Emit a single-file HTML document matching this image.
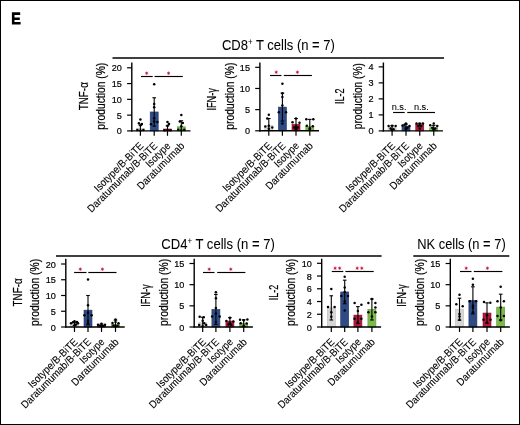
<!DOCTYPE html>
<html><head><meta charset="utf-8"><style>
html,body{margin:0;padding:0;background:#fff;}
body{width:520px;height:425px;overflow:hidden;}
.f{position:absolute;left:0;top:0;width:518px;height:423px;border:1px solid #000;}
svg{position:absolute;left:0;top:0;will-change:transform;}
text{font-family:"Liberation Sans",sans-serif;stroke:#000;stroke-width:0.22px;}
</style></head><body><div class="f"></div>
<svg width="520" height="425" viewBox="0 0 520 425">
<rect x="136.40" y="128.69" width="8.00" height="2.21" fill="#d6d6d6" stroke="#bcbcbc" stroke-width="0.6"/>
<rect x="150.20" y="111.97" width="8.00" height="18.93" fill="#2f4b86" stroke="#22386a" stroke-width="0.6"/>
<rect x="163.50" y="129.01" width="8.00" height="1.89" fill="#b3173d" stroke="#8e1030" stroke-width="0.6"/>
<rect x="177.30" y="126.80" width="8.00" height="4.10" fill="#7cba4c" stroke="#5e9a36" stroke-width="0.6"/>
<line x1="140.40" y1="125.22" x2="140.40" y2="130.90" stroke="#000" stroke-width="1.1"/>
<line x1="138.60" y1="125.22" x2="142.20" y2="125.22" stroke="#000" stroke-width="1.1"/>
<circle cx="140.40" cy="119.54" r="1.25" fill="#000"/>
<circle cx="138.90" cy="123.33" r="1.25" fill="#000"/>
<circle cx="141.90" cy="123.96" r="1.25" fill="#000"/>
<circle cx="140.40" cy="125.22" r="1.25" fill="#000"/>
<circle cx="137.40" cy="129.95" r="1.25" fill="#000"/>
<circle cx="143.40" cy="129.95" r="1.25" fill="#000"/>
<circle cx="140.40" cy="130.58" r="1.25" fill="#000"/>
<line x1="154.20" y1="97.77" x2="154.20" y2="126.17" stroke="#000" stroke-width="1.1"/>
<line x1="152.40" y1="97.77" x2="156.00" y2="97.77" stroke="#000" stroke-width="1.1"/>
<line x1="152.40" y1="126.17" x2="156.00" y2="126.17" stroke="#000" stroke-width="1.1"/>
<circle cx="154.20" cy="84.21" r="1.25" fill="#000"/>
<circle cx="154.20" cy="104.08" r="1.25" fill="#000"/>
<circle cx="154.20" cy="107.24" r="1.25" fill="#000"/>
<circle cx="151.00" cy="124.27" r="1.25" fill="#000"/>
<circle cx="157.40" cy="121.91" r="1.25" fill="#000"/>
<circle cx="154.20" cy="118.28" r="1.25" fill="#000"/>
<circle cx="154.20" cy="121.44" r="1.25" fill="#000"/>
<line x1="167.50" y1="125.85" x2="167.50" y2="130.90" stroke="#000" stroke-width="1.1"/>
<line x1="165.70" y1="125.85" x2="169.30" y2="125.85" stroke="#000" stroke-width="1.1"/>
<circle cx="167.50" cy="122.07" r="1.25" fill="#000"/>
<circle cx="169.00" cy="123.96" r="1.25" fill="#000"/>
<circle cx="167.50" cy="125.85" r="1.25" fill="#000"/>
<circle cx="164.50" cy="130.27" r="1.25" fill="#000"/>
<circle cx="170.50" cy="130.27" r="1.25" fill="#000"/>
<circle cx="167.50" cy="129.95" r="1.25" fill="#000"/>
<line x1="181.30" y1="120.80" x2="181.30" y2="130.90" stroke="#000" stroke-width="1.1"/>
<line x1="179.50" y1="120.80" x2="183.10" y2="120.80" stroke="#000" stroke-width="1.1"/>
<circle cx="181.30" cy="115.12" r="1.25" fill="#000"/>
<circle cx="179.80" cy="121.44" r="1.25" fill="#000"/>
<circle cx="182.80" cy="123.01" r="1.25" fill="#000"/>
<circle cx="181.30" cy="126.17" r="1.25" fill="#000"/>
<circle cx="178.30" cy="129.64" r="1.25" fill="#000"/>
<circle cx="184.30" cy="129.64" r="1.25" fill="#000"/>
<circle cx="181.30" cy="130.27" r="1.25" fill="#000"/>
<line x1="131.80" y1="62.50" x2="131.80" y2="131.50" stroke="#000" stroke-width="1.4"/>
<line x1="131.10" y1="130.90" x2="190.50" y2="130.90" stroke="#000" stroke-width="1.4"/>
<line x1="127.10" y1="130.90" x2="131.80" y2="130.90" stroke="#000" stroke-width="1.2"/>
<text transform="translate(121.90,134.40) scale(0.92,1)" font-size="9.9" text-anchor="end">0</text>
<line x1="127.10" y1="115.12" x2="131.80" y2="115.12" stroke="#000" stroke-width="1.2"/>
<text transform="translate(121.90,118.62) scale(0.92,1)" font-size="9.9" text-anchor="end">5</text>
<line x1="127.10" y1="99.35" x2="131.80" y2="99.35" stroke="#000" stroke-width="1.2"/>
<text transform="translate(121.90,102.85) scale(0.92,1)" font-size="9.9" text-anchor="end">10</text>
<line x1="127.10" y1="83.58" x2="131.80" y2="83.58" stroke="#000" stroke-width="1.2"/>
<text transform="translate(121.90,87.08) scale(0.92,1)" font-size="9.9" text-anchor="end">15</text>
<line x1="127.10" y1="67.80" x2="131.80" y2="67.80" stroke="#000" stroke-width="1.2"/>
<text transform="translate(121.90,71.30) scale(0.92,1)" font-size="9.9" text-anchor="end">20</text>
<line x1="140.40" y1="130.90" x2="140.40" y2="135.80" stroke="#000" stroke-width="1.2"/>
<line x1="154.20" y1="130.90" x2="154.20" y2="135.80" stroke="#000" stroke-width="1.2"/>
<line x1="167.50" y1="130.90" x2="167.50" y2="135.80" stroke="#000" stroke-width="1.2"/>
<line x1="181.30" y1="130.90" x2="181.30" y2="135.80" stroke="#000" stroke-width="1.2"/>
<line x1="141.00" y1="76.50" x2="152.70" y2="76.50" stroke="#000" stroke-width="1.15"/>
<line x1="154.50" y1="76.50" x2="182.80" y2="76.50" stroke="#000" stroke-width="1.15"/>
<g stroke="#e2506f" stroke-width="0.8" stroke-linecap="round">
<line x1="146.70" y1="71.75" x2="146.70" y2="74.65"/>
<line x1="145.44" y1="72.48" x2="147.96" y2="73.92"/>
<line x1="145.44" y1="73.92" x2="147.96" y2="72.48"/>
</g>
<circle cx="146.70" cy="73.20" r="0.95" fill="#b0203f"/>
<g stroke="#e2506f" stroke-width="0.8" stroke-linecap="round">
<line x1="168.60" y1="71.75" x2="168.60" y2="74.65"/>
<line x1="167.34" y1="72.48" x2="169.86" y2="73.92"/>
<line x1="167.34" y1="73.92" x2="169.86" y2="72.48"/>
</g>
<circle cx="168.60" cy="73.20" r="0.95" fill="#b0203f"/>
<text x="88.00" y="96.20" font-size="12.5" text-anchor="middle" fill="#000" textLength="28" lengthAdjust="spacingAndGlyphs" transform="rotate(-90 88.00 96.20)">TNF-α</text>
<text x="105.50" y="96.20" font-size="12.3" text-anchor="middle" fill="#000" textLength="67" lengthAdjust="spacingAndGlyphs" transform="rotate(-90 105.50 96.20)">production (%)</text>
<text x="144.20" y="146.50" font-size="10.5" text-anchor="end" fill="#000" textLength="65" lengthAdjust="spacingAndGlyphs" transform="rotate(-45 144.20 146.50)" style="stroke-width:0.1px">Isotype/B-BiTE</text>
<text x="158.00" y="146.50" font-size="10.5" text-anchor="end" fill="#000" textLength="94" lengthAdjust="spacingAndGlyphs" transform="rotate(-45 158.00 146.50)" style="stroke-width:0.1px">Daratumumab/B-BiTE</text>
<text x="171.30" y="146.50" font-size="10.5" text-anchor="end" fill="#000" textLength="30.5" lengthAdjust="spacingAndGlyphs" transform="rotate(-45 171.30 146.50)" style="stroke-width:0.1px">Isotype</text>
<text x="185.10" y="146.50" font-size="10.5" text-anchor="end" fill="#000" textLength="62" lengthAdjust="spacingAndGlyphs" transform="rotate(-45 185.10 146.50)" style="stroke-width:0.1px">Daratumumab</text>
<rect x="264.80" y="125.72" width="8.00" height="5.08" fill="#d6d6d6" stroke="#bcbcbc" stroke-width="0.6"/>
<rect x="278.40" y="107.10" width="8.00" height="23.70" fill="#2f4b86" stroke="#22386a" stroke-width="0.6"/>
<rect x="292.00" y="124.24" width="8.00" height="6.56" fill="#b3173d" stroke="#8e1030" stroke-width="0.6"/>
<rect x="305.80" y="126.57" width="8.00" height="4.23" fill="#7cba4c" stroke="#5e9a36" stroke-width="0.6"/>
<line x1="268.80" y1="118.52" x2="268.80" y2="130.80" stroke="#000" stroke-width="1.1"/>
<line x1="267.00" y1="118.52" x2="270.60" y2="118.52" stroke="#000" stroke-width="1.1"/>
<circle cx="268.80" cy="114.71" r="1.25" fill="#000"/>
<circle cx="265.30" cy="126.57" r="1.25" fill="#000"/>
<circle cx="272.30" cy="127.41" r="1.25" fill="#000"/>
<circle cx="268.80" cy="125.72" r="1.25" fill="#000"/>
<circle cx="268.80" cy="128.68" r="1.25" fill="#000"/>
<circle cx="267.30" cy="118.52" r="1.25" fill="#000"/>
<line x1="282.40" y1="93.13" x2="282.40" y2="121.06" stroke="#000" stroke-width="1.1"/>
<line x1="280.60" y1="93.13" x2="284.20" y2="93.13" stroke="#000" stroke-width="1.1"/>
<line x1="280.60" y1="121.06" x2="284.20" y2="121.06" stroke="#000" stroke-width="1.1"/>
<circle cx="282.40" cy="83.81" r="1.25" fill="#000"/>
<circle cx="282.40" cy="93.13" r="1.25" fill="#000"/>
<circle cx="282.40" cy="96.94" r="1.25" fill="#000"/>
<circle cx="278.80" cy="112.17" r="1.25" fill="#000"/>
<circle cx="286.00" cy="112.17" r="1.25" fill="#000"/>
<circle cx="282.40" cy="123.60" r="1.25" fill="#000"/>
<circle cx="282.40" cy="105.40" r="1.25" fill="#000"/>
<line x1="296.00" y1="118.52" x2="296.00" y2="129.95" stroke="#000" stroke-width="1.1"/>
<line x1="294.20" y1="118.52" x2="297.80" y2="118.52" stroke="#000" stroke-width="1.1"/>
<line x1="294.20" y1="129.95" x2="297.80" y2="129.95" stroke="#000" stroke-width="1.1"/>
<circle cx="296.00" cy="118.52" r="1.25" fill="#000"/>
<circle cx="292.50" cy="122.33" r="1.25" fill="#000"/>
<circle cx="299.50" cy="122.76" r="1.25" fill="#000"/>
<circle cx="296.00" cy="126.57" r="1.25" fill="#000"/>
<circle cx="296.00" cy="128.68" r="1.25" fill="#000"/>
<circle cx="294.00" cy="127.41" r="1.25" fill="#000"/>
<circle cx="298.00" cy="127.41" r="1.25" fill="#000"/>
<line x1="309.80" y1="119.37" x2="309.80" y2="130.80" stroke="#000" stroke-width="1.1"/>
<line x1="308.00" y1="119.37" x2="311.60" y2="119.37" stroke="#000" stroke-width="1.1"/>
<circle cx="306.30" cy="119.16" r="1.25" fill="#000"/>
<circle cx="313.30" cy="119.16" r="1.25" fill="#000"/>
<circle cx="306.80" cy="125.72" r="1.25" fill="#000"/>
<circle cx="312.80" cy="126.14" r="1.25" fill="#000"/>
<circle cx="309.80" cy="128.26" r="1.25" fill="#000"/>
<circle cx="309.80" cy="129.53" r="1.25" fill="#000"/>
<line x1="259.90" y1="62.50" x2="259.90" y2="131.40" stroke="#000" stroke-width="1.4"/>
<line x1="259.20" y1="130.80" x2="319.00" y2="130.80" stroke="#000" stroke-width="1.4"/>
<line x1="255.20" y1="130.80" x2="259.90" y2="130.80" stroke="#000" stroke-width="1.2"/>
<text transform="translate(250.00,134.30) scale(0.92,1)" font-size="9.9" text-anchor="end">0</text>
<line x1="255.20" y1="109.64" x2="259.90" y2="109.64" stroke="#000" stroke-width="1.2"/>
<text transform="translate(250.00,113.14) scale(0.92,1)" font-size="9.9" text-anchor="end">5</text>
<line x1="255.20" y1="88.47" x2="259.90" y2="88.47" stroke="#000" stroke-width="1.2"/>
<text transform="translate(250.00,91.97) scale(0.92,1)" font-size="9.9" text-anchor="end">10</text>
<line x1="255.20" y1="67.31" x2="259.90" y2="67.31" stroke="#000" stroke-width="1.2"/>
<text transform="translate(250.00,70.81) scale(0.92,1)" font-size="9.9" text-anchor="end">15</text>
<line x1="268.80" y1="130.80" x2="268.80" y2="135.70" stroke="#000" stroke-width="1.2"/>
<line x1="282.40" y1="130.80" x2="282.40" y2="135.70" stroke="#000" stroke-width="1.2"/>
<line x1="296.00" y1="130.80" x2="296.00" y2="135.70" stroke="#000" stroke-width="1.2"/>
<line x1="309.80" y1="130.80" x2="309.80" y2="135.70" stroke="#000" stroke-width="1.2"/>
<line x1="270.00" y1="75.50" x2="281.50" y2="75.50" stroke="#000" stroke-width="1.15"/>
<line x1="283.80" y1="75.50" x2="311.90" y2="75.50" stroke="#000" stroke-width="1.15"/>
<g stroke="#e2506f" stroke-width="0.8" stroke-linecap="round">
<line x1="276.20" y1="70.75" x2="276.20" y2="73.65"/>
<line x1="274.94" y1="71.48" x2="277.46" y2="72.92"/>
<line x1="274.94" y1="72.92" x2="277.46" y2="71.48"/>
</g>
<circle cx="276.20" cy="72.20" r="0.95" fill="#b0203f"/>
<g stroke="#e2506f" stroke-width="0.8" stroke-linecap="round">
<line x1="297.40" y1="70.75" x2="297.40" y2="73.65"/>
<line x1="296.14" y1="71.48" x2="298.66" y2="72.92"/>
<line x1="296.14" y1="72.92" x2="298.66" y2="71.48"/>
</g>
<circle cx="297.40" cy="72.20" r="0.95" fill="#b0203f"/>
<text x="216.10" y="99.35" font-size="12.5" text-anchor="middle" fill="#000" textLength="22.5" lengthAdjust="spacingAndGlyphs" transform="rotate(-90 216.10 99.35)">IFN-γ</text>
<text x="233.60" y="96.15" font-size="12.3" text-anchor="middle" fill="#000" textLength="67" lengthAdjust="spacingAndGlyphs" transform="rotate(-90 233.60 96.15)">production (%)</text>
<text x="272.60" y="146.40" font-size="10.5" text-anchor="end" fill="#000" textLength="65" lengthAdjust="spacingAndGlyphs" transform="rotate(-45 272.60 146.40)" style="stroke-width:0.1px">Isotype/B-BiTE</text>
<text x="286.20" y="146.40" font-size="10.5" text-anchor="end" fill="#000" textLength="94" lengthAdjust="spacingAndGlyphs" transform="rotate(-45 286.20 146.40)" style="stroke-width:0.1px">Daratumumab/B-BiTE</text>
<text x="299.80" y="146.40" font-size="10.5" text-anchor="end" fill="#000" textLength="30.5" lengthAdjust="spacingAndGlyphs" transform="rotate(-45 299.80 146.40)" style="stroke-width:0.1px">Isotype</text>
<text x="313.60" y="146.40" font-size="10.5" text-anchor="end" fill="#000" textLength="62" lengthAdjust="spacingAndGlyphs" transform="rotate(-45 313.60 146.40)" style="stroke-width:0.1px">Daratumumab</text>
<rect x="388.10" y="127.70" width="8.00" height="3.20" fill="#d6d6d6" stroke="#bcbcbc" stroke-width="0.6"/>
<rect x="402.00" y="126.10" width="8.00" height="4.80" fill="#2f4b86" stroke="#22386a" stroke-width="0.6"/>
<rect x="415.75" y="124.50" width="8.00" height="6.40" fill="#b3173d" stroke="#8e1030" stroke-width="0.6"/>
<rect x="429.75" y="127.70" width="8.00" height="3.20" fill="#7cba4c" stroke="#5e9a36" stroke-width="0.6"/>
<line x1="392.10" y1="125.78" x2="392.10" y2="129.62" stroke="#000" stroke-width="1.1"/>
<line x1="390.30" y1="125.78" x2="393.90" y2="125.78" stroke="#000" stroke-width="1.1"/>
<line x1="390.30" y1="129.62" x2="393.90" y2="129.62" stroke="#000" stroke-width="1.1"/>
<circle cx="388.60" cy="126.10" r="1.25" fill="#000"/>
<circle cx="395.60" cy="126.10" r="1.25" fill="#000"/>
<circle cx="392.10" cy="125.78" r="1.25" fill="#000"/>
<circle cx="390.60" cy="128.50" r="1.25" fill="#000"/>
<circle cx="393.60" cy="129.30" r="1.25" fill="#000"/>
<circle cx="392.10" cy="130.10" r="1.25" fill="#000"/>
<line x1="406.00" y1="124.18" x2="406.00" y2="128.02" stroke="#000" stroke-width="1.1"/>
<line x1="404.20" y1="124.18" x2="407.80" y2="124.18" stroke="#000" stroke-width="1.1"/>
<line x1="404.20" y1="128.02" x2="407.80" y2="128.02" stroke="#000" stroke-width="1.1"/>
<circle cx="406.00" cy="123.38" r="1.25" fill="#000"/>
<circle cx="402.50" cy="125.62" r="1.25" fill="#000"/>
<circle cx="409.50" cy="126.10" r="1.25" fill="#000"/>
<circle cx="404.50" cy="124.82" r="1.25" fill="#000"/>
<circle cx="407.50" cy="127.70" r="1.25" fill="#000"/>
<circle cx="406.00" cy="129.30" r="1.25" fill="#000"/>
<line x1="419.75" y1="123.22" x2="419.75" y2="125.78" stroke="#000" stroke-width="1.1"/>
<line x1="417.95" y1="123.22" x2="421.55" y2="123.22" stroke="#000" stroke-width="1.1"/>
<line x1="417.95" y1="125.78" x2="421.55" y2="125.78" stroke="#000" stroke-width="1.1"/>
<circle cx="416.55" cy="123.38" r="1.25" fill="#000"/>
<circle cx="422.95" cy="123.38" r="1.25" fill="#000"/>
<circle cx="419.75" cy="123.70" r="1.25" fill="#000"/>
<circle cx="418.25" cy="126.10" r="1.25" fill="#000"/>
<circle cx="421.25" cy="126.10" r="1.25" fill="#000"/>
<circle cx="419.75" cy="128.50" r="1.25" fill="#000"/>
<line x1="433.75" y1="125.30" x2="433.75" y2="130.10" stroke="#000" stroke-width="1.1"/>
<line x1="431.95" y1="125.30" x2="435.55" y2="125.30" stroke="#000" stroke-width="1.1"/>
<line x1="431.95" y1="130.10" x2="435.55" y2="130.10" stroke="#000" stroke-width="1.1"/>
<circle cx="433.75" cy="123.38" r="1.25" fill="#000"/>
<circle cx="430.25" cy="125.30" r="1.25" fill="#000"/>
<circle cx="437.25" cy="126.10" r="1.25" fill="#000"/>
<circle cx="432.25" cy="127.70" r="1.25" fill="#000"/>
<circle cx="435.25" cy="128.50" r="1.25" fill="#000"/>
<circle cx="433.75" cy="129.30" r="1.25" fill="#000"/>
<line x1="383.40" y1="62.50" x2="383.40" y2="131.50" stroke="#000" stroke-width="1.4"/>
<line x1="382.70" y1="130.90" x2="442.95" y2="130.90" stroke="#000" stroke-width="1.4"/>
<line x1="378.70" y1="130.90" x2="383.40" y2="130.90" stroke="#000" stroke-width="1.2"/>
<text transform="translate(373.50,134.40) scale(0.92,1)" font-size="9.9" text-anchor="end">0</text>
<line x1="378.70" y1="114.89" x2="383.40" y2="114.89" stroke="#000" stroke-width="1.2"/>
<text transform="translate(373.50,118.39) scale(0.92,1)" font-size="9.9" text-anchor="end">1</text>
<line x1="378.70" y1="98.88" x2="383.40" y2="98.88" stroke="#000" stroke-width="1.2"/>
<text transform="translate(373.50,102.38) scale(0.92,1)" font-size="9.9" text-anchor="end">2</text>
<line x1="378.70" y1="82.87" x2="383.40" y2="82.87" stroke="#000" stroke-width="1.2"/>
<text transform="translate(373.50,86.37) scale(0.92,1)" font-size="9.9" text-anchor="end">3</text>
<line x1="378.70" y1="66.86" x2="383.40" y2="66.86" stroke="#000" stroke-width="1.2"/>
<text transform="translate(373.50,70.36) scale(0.92,1)" font-size="9.9" text-anchor="end">4</text>
<line x1="392.10" y1="130.90" x2="392.10" y2="135.80" stroke="#000" stroke-width="1.2"/>
<line x1="406.00" y1="130.90" x2="406.00" y2="135.80" stroke="#000" stroke-width="1.2"/>
<line x1="419.75" y1="130.90" x2="419.75" y2="135.80" stroke="#000" stroke-width="1.2"/>
<line x1="433.75" y1="130.90" x2="433.75" y2="135.80" stroke="#000" stroke-width="1.2"/>
<line x1="393.10" y1="112.50" x2="404.75" y2="112.50" stroke="#000" stroke-width="1.15"/>
<line x1="407.25" y1="112.50" x2="435.00" y2="112.50" stroke="#000" stroke-width="1.15"/>
<text x="399.10" y="109.50" font-size="9.2" text-anchor="middle" fill="#000" style="stroke-width:0.08px">n.s.</text>
<text x="421.30" y="109.50" font-size="9.2" text-anchor="middle" fill="#000" style="stroke-width:0.08px">n.s.</text>
<text x="344.30" y="96.20" font-size="12.5" text-anchor="middle" fill="#000" textLength="15.5" lengthAdjust="spacingAndGlyphs" transform="rotate(-90 344.30 96.20)">IL-2</text>
<text x="361.80" y="96.20" font-size="12.3" text-anchor="middle" fill="#000" textLength="66" lengthAdjust="spacingAndGlyphs" transform="rotate(-90 361.80 96.20)">production (%)</text>
<text x="395.90" y="146.50" font-size="10.5" text-anchor="end" fill="#000" textLength="65" lengthAdjust="spacingAndGlyphs" transform="rotate(-45 395.90 146.50)" style="stroke-width:0.1px">Isotype/B-BiTE</text>
<text x="409.80" y="146.50" font-size="10.5" text-anchor="end" fill="#000" textLength="94" lengthAdjust="spacingAndGlyphs" transform="rotate(-45 409.80 146.50)" style="stroke-width:0.1px">Daratumumab/B-BiTE</text>
<text x="423.55" y="146.50" font-size="10.5" text-anchor="end" fill="#000" textLength="30.5" lengthAdjust="spacingAndGlyphs" transform="rotate(-45 423.55 146.50)" style="stroke-width:0.1px">Isotype</text>
<text x="437.55" y="146.50" font-size="10.5" text-anchor="end" fill="#000" textLength="62" lengthAdjust="spacingAndGlyphs" transform="rotate(-45 437.55 146.50)" style="stroke-width:0.1px">Daratumumab</text>
<rect x="70.50" y="323.85" width="8.00" height="3.15" fill="#d6d6d6" stroke="#bcbcbc" stroke-width="0.6"/>
<rect x="84.00" y="310.15" width="8.00" height="16.85" fill="#2f4b86" stroke="#22386a" stroke-width="0.6"/>
<rect x="97.50" y="325.11" width="8.00" height="1.89" fill="#b3173d" stroke="#8e1030" stroke-width="0.6"/>
<rect x="111.50" y="324.48" width="8.00" height="2.52" fill="#7cba4c" stroke="#5e9a36" stroke-width="0.6"/>
<line x1="74.50" y1="322.27" x2="74.50" y2="325.43" stroke="#000" stroke-width="1.1"/>
<line x1="72.70" y1="322.27" x2="76.30" y2="322.27" stroke="#000" stroke-width="1.1"/>
<line x1="72.70" y1="325.43" x2="76.30" y2="325.43" stroke="#000" stroke-width="1.1"/>
<circle cx="71.00" cy="323.22" r="1.25" fill="#000"/>
<circle cx="78.00" cy="323.22" r="1.25" fill="#000"/>
<circle cx="74.50" cy="321.33" r="1.25" fill="#000"/>
<circle cx="73.00" cy="322.27" r="1.25" fill="#000"/>
<circle cx="76.00" cy="324.48" r="1.25" fill="#000"/>
<circle cx="74.50" cy="325.43" r="1.25" fill="#000"/>
<circle cx="77.00" cy="321.96" r="1.25" fill="#000"/>
<line x1="88.00" y1="295.50" x2="88.00" y2="324.80" stroke="#000" stroke-width="1.1"/>
<line x1="86.20" y1="295.50" x2="89.80" y2="295.50" stroke="#000" stroke-width="1.1"/>
<line x1="86.20" y1="324.80" x2="89.80" y2="324.80" stroke="#000" stroke-width="1.1"/>
<circle cx="88.00" cy="279.44" r="1.25" fill="#000"/>
<circle cx="88.00" cy="305.26" r="1.25" fill="#000"/>
<circle cx="84.40" cy="315.35" r="1.25" fill="#000"/>
<circle cx="91.60" cy="315.35" r="1.25" fill="#000"/>
<circle cx="88.00" cy="320.70" r="1.25" fill="#000"/>
<circle cx="88.00" cy="323.22" r="1.25" fill="#000"/>
<circle cx="88.00" cy="312.82" r="1.25" fill="#000"/>
<line x1="101.50" y1="324.01" x2="101.50" y2="326.21" stroke="#000" stroke-width="1.1"/>
<line x1="99.70" y1="324.01" x2="103.30" y2="324.01" stroke="#000" stroke-width="1.1"/>
<line x1="99.70" y1="326.21" x2="103.30" y2="326.21" stroke="#000" stroke-width="1.1"/>
<circle cx="98.00" cy="324.80" r="1.25" fill="#000"/>
<circle cx="105.00" cy="324.80" r="1.25" fill="#000"/>
<circle cx="101.50" cy="323.85" r="1.25" fill="#000"/>
<circle cx="100.00" cy="325.74" r="1.25" fill="#000"/>
<circle cx="103.00" cy="326.06" r="1.25" fill="#000"/>
<circle cx="101.50" cy="326.37" r="1.25" fill="#000"/>
<line x1="115.50" y1="320.07" x2="115.50" y2="327.00" stroke="#000" stroke-width="1.1"/>
<line x1="113.70" y1="320.07" x2="117.30" y2="320.07" stroke="#000" stroke-width="1.1"/>
<circle cx="115.50" cy="319.44" r="1.25" fill="#000"/>
<circle cx="112.50" cy="322.90" r="1.25" fill="#000"/>
<circle cx="118.50" cy="323.22" r="1.25" fill="#000"/>
<circle cx="115.50" cy="321.96" r="1.25" fill="#000"/>
<circle cx="113.50" cy="325.43" r="1.25" fill="#000"/>
<circle cx="117.50" cy="325.74" r="1.25" fill="#000"/>
<circle cx="115.50" cy="326.37" r="1.25" fill="#000"/>
<line x1="65.80" y1="258.80" x2="65.80" y2="327.60" stroke="#000" stroke-width="1.4"/>
<line x1="65.10" y1="327.00" x2="124.70" y2="327.00" stroke="#000" stroke-width="1.4"/>
<line x1="61.10" y1="327.00" x2="65.80" y2="327.00" stroke="#000" stroke-width="1.2"/>
<text transform="translate(55.90,330.50) scale(0.92,1)" font-size="9.9" text-anchor="end">0</text>
<line x1="61.10" y1="311.25" x2="65.80" y2="311.25" stroke="#000" stroke-width="1.2"/>
<text transform="translate(55.90,314.75) scale(0.92,1)" font-size="9.9" text-anchor="end">5</text>
<line x1="61.10" y1="295.50" x2="65.80" y2="295.50" stroke="#000" stroke-width="1.2"/>
<text transform="translate(55.90,299.00) scale(0.92,1)" font-size="9.9" text-anchor="end">10</text>
<line x1="61.10" y1="279.75" x2="65.80" y2="279.75" stroke="#000" stroke-width="1.2"/>
<text transform="translate(55.90,283.25) scale(0.92,1)" font-size="9.9" text-anchor="end">15</text>
<line x1="61.10" y1="264.00" x2="65.80" y2="264.00" stroke="#000" stroke-width="1.2"/>
<text transform="translate(55.90,267.50) scale(0.92,1)" font-size="9.9" text-anchor="end">20</text>
<line x1="74.50" y1="327.00" x2="74.50" y2="331.90" stroke="#000" stroke-width="1.2"/>
<line x1="88.00" y1="327.00" x2="88.00" y2="331.90" stroke="#000" stroke-width="1.2"/>
<line x1="101.50" y1="327.00" x2="101.50" y2="331.90" stroke="#000" stroke-width="1.2"/>
<line x1="115.50" y1="327.00" x2="115.50" y2="331.90" stroke="#000" stroke-width="1.2"/>
<line x1="74.10" y1="272.50" x2="86.50" y2="272.50" stroke="#000" stroke-width="1.15"/>
<line x1="88.30" y1="272.50" x2="116.50" y2="272.50" stroke="#000" stroke-width="1.15"/>
<g stroke="#e2506f" stroke-width="0.8" stroke-linecap="round">
<line x1="80.30" y1="267.75" x2="80.30" y2="270.65"/>
<line x1="79.04" y1="268.47" x2="81.56" y2="269.93"/>
<line x1="79.04" y1="269.93" x2="81.56" y2="268.47"/>
</g>
<circle cx="80.30" cy="269.20" r="0.95" fill="#b0203f"/>
<g stroke="#e2506f" stroke-width="0.8" stroke-linecap="round">
<line x1="102.40" y1="267.75" x2="102.40" y2="270.65"/>
<line x1="101.14" y1="268.47" x2="103.66" y2="269.93"/>
<line x1="101.14" y1="269.93" x2="103.66" y2="268.47"/>
</g>
<circle cx="102.40" cy="269.20" r="0.95" fill="#b0203f"/>
<text x="22.00" y="292.40" font-size="12.5" text-anchor="middle" fill="#000" textLength="28" lengthAdjust="spacingAndGlyphs" transform="rotate(-90 22.00 292.40)">TNF-α</text>
<text x="39.50" y="292.40" font-size="12.3" text-anchor="middle" fill="#000" textLength="67" lengthAdjust="spacingAndGlyphs" transform="rotate(-90 39.50 292.40)">production (%)</text>
<text x="78.30" y="342.60" font-size="10.5" text-anchor="end" fill="#000" textLength="65" lengthAdjust="spacingAndGlyphs" transform="rotate(-45 78.30 342.60)" style="stroke-width:0.1px">Isotype/B-BiTE</text>
<text x="91.80" y="342.60" font-size="10.5" text-anchor="end" fill="#000" textLength="94" lengthAdjust="spacingAndGlyphs" transform="rotate(-45 91.80 342.60)" style="stroke-width:0.1px">Daratumumab/B-BiTE</text>
<text x="105.30" y="342.60" font-size="10.5" text-anchor="end" fill="#000" textLength="30.5" lengthAdjust="spacingAndGlyphs" transform="rotate(-45 105.30 342.60)" style="stroke-width:0.1px">Isotype</text>
<text x="119.30" y="342.60" font-size="10.5" text-anchor="end" fill="#000" textLength="62" lengthAdjust="spacingAndGlyphs" transform="rotate(-45 119.30 342.60)" style="stroke-width:0.1px">Daratumumab</text>
<rect x="198.70" y="322.77" width="8.00" height="4.23" fill="#d6d6d6" stroke="#bcbcbc" stroke-width="0.6"/>
<rect x="211.90" y="309.43" width="8.00" height="17.57" fill="#2f4b86" stroke="#22386a" stroke-width="0.6"/>
<rect x="225.90" y="321.07" width="8.00" height="5.93" fill="#b3173d" stroke="#8e1030" stroke-width="0.6"/>
<rect x="239.70" y="323.19" width="8.00" height="3.81" fill="#7cba4c" stroke="#5e9a36" stroke-width="0.6"/>
<line x1="202.70" y1="317.26" x2="202.70" y2="327.00" stroke="#000" stroke-width="1.1"/>
<line x1="200.90" y1="317.26" x2="204.50" y2="317.26" stroke="#000" stroke-width="1.1"/>
<circle cx="199.70" cy="316.84" r="1.25" fill="#000"/>
<circle cx="203.70" cy="317.26" r="1.25" fill="#000"/>
<circle cx="202.70" cy="320.65" r="1.25" fill="#000"/>
<circle cx="199.20" cy="324.88" r="1.25" fill="#000"/>
<circle cx="206.20" cy="324.88" r="1.25" fill="#000"/>
<circle cx="204.20" cy="323.19" r="1.25" fill="#000"/>
<circle cx="202.70" cy="326.15" r="1.25" fill="#000"/>
<line x1="215.90" y1="294.41" x2="215.90" y2="324.46" stroke="#000" stroke-width="1.1"/>
<line x1="214.10" y1="294.41" x2="217.70" y2="294.41" stroke="#000" stroke-width="1.1"/>
<line x1="214.10" y1="324.46" x2="217.70" y2="324.46" stroke="#000" stroke-width="1.1"/>
<circle cx="215.90" cy="292.29" r="1.25" fill="#000"/>
<circle cx="215.90" cy="298.22" r="1.25" fill="#000"/>
<circle cx="212.10" cy="316.42" r="1.25" fill="#000"/>
<circle cx="219.70" cy="316.42" r="1.25" fill="#000"/>
<circle cx="215.90" cy="321.92" r="1.25" fill="#000"/>
<circle cx="215.90" cy="307.95" r="1.25" fill="#000"/>
<circle cx="215.90" cy="313.45" r="1.25" fill="#000"/>
<line x1="229.90" y1="317.69" x2="229.90" y2="324.46" stroke="#000" stroke-width="1.1"/>
<line x1="228.10" y1="317.69" x2="231.70" y2="317.69" stroke="#000" stroke-width="1.1"/>
<line x1="228.10" y1="324.46" x2="231.70" y2="324.46" stroke="#000" stroke-width="1.1"/>
<circle cx="229.90" cy="317.69" r="1.25" fill="#000"/>
<circle cx="226.40" cy="321.07" r="1.25" fill="#000"/>
<circle cx="233.40" cy="321.50" r="1.25" fill="#000"/>
<circle cx="229.90" cy="323.19" r="1.25" fill="#000"/>
<circle cx="228.40" cy="324.46" r="1.25" fill="#000"/>
<circle cx="231.40" cy="324.88" r="1.25" fill="#000"/>
<line x1="243.70" y1="319.80" x2="243.70" y2="326.58" stroke="#000" stroke-width="1.1"/>
<line x1="241.90" y1="319.80" x2="245.50" y2="319.80" stroke="#000" stroke-width="1.1"/>
<line x1="241.90" y1="326.58" x2="245.50" y2="326.58" stroke="#000" stroke-width="1.1"/>
<circle cx="240.00" cy="319.80" r="1.25" fill="#000"/>
<circle cx="247.40" cy="319.38" r="1.25" fill="#000"/>
<circle cx="243.70" cy="320.23" r="1.25" fill="#000"/>
<circle cx="240.70" cy="323.19" r="1.25" fill="#000"/>
<circle cx="246.70" cy="323.61" r="1.25" fill="#000"/>
<circle cx="243.70" cy="325.73" r="1.25" fill="#000"/>
<line x1="194.20" y1="258.80" x2="194.20" y2="327.60" stroke="#000" stroke-width="1.4"/>
<line x1="193.50" y1="327.00" x2="252.90" y2="327.00" stroke="#000" stroke-width="1.4"/>
<line x1="189.50" y1="327.00" x2="194.20" y2="327.00" stroke="#000" stroke-width="1.2"/>
<text transform="translate(184.30,330.50) scale(0.92,1)" font-size="9.9" text-anchor="end">0</text>
<line x1="189.50" y1="305.83" x2="194.20" y2="305.83" stroke="#000" stroke-width="1.2"/>
<text transform="translate(184.30,309.33) scale(0.92,1)" font-size="9.9" text-anchor="end">5</text>
<line x1="189.50" y1="284.67" x2="194.20" y2="284.67" stroke="#000" stroke-width="1.2"/>
<text transform="translate(184.30,288.17) scale(0.92,1)" font-size="9.9" text-anchor="end">10</text>
<line x1="189.50" y1="263.50" x2="194.20" y2="263.50" stroke="#000" stroke-width="1.2"/>
<text transform="translate(184.30,267.00) scale(0.92,1)" font-size="9.9" text-anchor="end">15</text>
<line x1="202.70" y1="327.00" x2="202.70" y2="331.90" stroke="#000" stroke-width="1.2"/>
<line x1="215.90" y1="327.00" x2="215.90" y2="331.90" stroke="#000" stroke-width="1.2"/>
<line x1="229.90" y1="327.00" x2="229.90" y2="331.90" stroke="#000" stroke-width="1.2"/>
<line x1="243.70" y1="327.00" x2="243.70" y2="331.90" stroke="#000" stroke-width="1.2"/>
<line x1="203.00" y1="272.50" x2="214.50" y2="272.50" stroke="#000" stroke-width="1.15"/>
<line x1="217.20" y1="272.50" x2="245.40" y2="272.50" stroke="#000" stroke-width="1.15"/>
<g stroke="#e2506f" stroke-width="0.8" stroke-linecap="round">
<line x1="209.20" y1="267.75" x2="209.20" y2="270.65"/>
<line x1="207.94" y1="268.47" x2="210.46" y2="269.93"/>
<line x1="207.94" y1="269.93" x2="210.46" y2="268.47"/>
</g>
<circle cx="209.20" cy="269.20" r="0.95" fill="#b0203f"/>
<g stroke="#e2506f" stroke-width="0.8" stroke-linecap="round">
<line x1="230.80" y1="267.75" x2="230.80" y2="270.65"/>
<line x1="229.54" y1="268.47" x2="232.06" y2="269.93"/>
<line x1="229.54" y1="269.93" x2="232.06" y2="268.47"/>
</g>
<circle cx="230.80" cy="269.20" r="0.95" fill="#b0203f"/>
<text x="150.40" y="295.60" font-size="12.5" text-anchor="middle" fill="#000" textLength="22.5" lengthAdjust="spacingAndGlyphs" transform="rotate(-90 150.40 295.60)">IFN-γ</text>
<text x="167.90" y="292.40" font-size="12.3" text-anchor="middle" fill="#000" textLength="67" lengthAdjust="spacingAndGlyphs" transform="rotate(-90 167.90 292.40)">production (%)</text>
<text x="206.50" y="342.60" font-size="10.5" text-anchor="end" fill="#000" textLength="65" lengthAdjust="spacingAndGlyphs" transform="rotate(-45 206.50 342.60)" style="stroke-width:0.1px">Isotype/B-BiTE</text>
<text x="219.70" y="342.60" font-size="10.5" text-anchor="end" fill="#000" textLength="94" lengthAdjust="spacingAndGlyphs" transform="rotate(-45 219.70 342.60)" style="stroke-width:0.1px">Daratumumab/B-BiTE</text>
<text x="233.70" y="342.60" font-size="10.5" text-anchor="end" fill="#000" textLength="30.5" lengthAdjust="spacingAndGlyphs" transform="rotate(-45 233.70 342.60)" style="stroke-width:0.1px">Isotype</text>
<text x="247.50" y="342.60" font-size="10.5" text-anchor="end" fill="#000" textLength="62" lengthAdjust="spacingAndGlyphs" transform="rotate(-45 247.50 342.60)" style="stroke-width:0.1px">Daratumumab</text>
<rect x="327.30" y="307.89" width="8.00" height="19.11" fill="#d6d6d6" stroke="#bcbcbc" stroke-width="0.6"/>
<rect x="340.70" y="291.96" width="8.00" height="35.04" fill="#2f4b86" stroke="#22386a" stroke-width="0.6"/>
<rect x="353.90" y="315.09" width="8.00" height="11.91" fill="#b3173d" stroke="#8e1030" stroke-width="0.6"/>
<rect x="367.90" y="309.48" width="8.00" height="17.52" fill="#7cba4c" stroke="#5e9a36" stroke-width="0.6"/>
<line x1="331.30" y1="295.79" x2="331.30" y2="319.99" stroke="#000" stroke-width="1.1"/>
<line x1="329.50" y1="295.79" x2="333.10" y2="295.79" stroke="#000" stroke-width="1.1"/>
<line x1="329.50" y1="319.99" x2="333.10" y2="319.99" stroke="#000" stroke-width="1.1"/>
<circle cx="331.30" cy="289.03" r="1.25" fill="#000"/>
<circle cx="328.00" cy="307.00" r="1.25" fill="#000"/>
<circle cx="334.60" cy="307.00" r="1.25" fill="#000"/>
<circle cx="331.30" cy="312.35" r="1.25" fill="#000"/>
<circle cx="331.30" cy="316.81" r="1.25" fill="#000"/>
<line x1="344.70" y1="280.18" x2="344.70" y2="303.75" stroke="#000" stroke-width="1.1"/>
<line x1="342.90" y1="280.18" x2="346.50" y2="280.18" stroke="#000" stroke-width="1.1"/>
<line x1="342.90" y1="303.75" x2="346.50" y2="303.75" stroke="#000" stroke-width="1.1"/>
<circle cx="344.70" cy="276.68" r="1.25" fill="#000"/>
<circle cx="341.40" cy="296.11" r="1.25" fill="#000"/>
<circle cx="348.00" cy="296.11" r="1.25" fill="#000"/>
<circle cx="344.70" cy="310.44" r="1.25" fill="#000"/>
<circle cx="344.70" cy="287.51" r="1.25" fill="#000"/>
<circle cx="344.70" cy="301.52" r="1.25" fill="#000"/>
<circle cx="344.70" cy="291.96" r="1.25" fill="#000"/>
<line x1="357.90" y1="306.62" x2="357.90" y2="323.56" stroke="#000" stroke-width="1.1"/>
<line x1="356.10" y1="306.62" x2="359.70" y2="306.62" stroke="#000" stroke-width="1.1"/>
<line x1="356.10" y1="323.56" x2="359.70" y2="323.56" stroke="#000" stroke-width="1.1"/>
<circle cx="354.60" cy="303.11" r="1.25" fill="#000"/>
<circle cx="361.40" cy="304.70" r="1.25" fill="#000"/>
<circle cx="357.90" cy="311.07" r="1.25" fill="#000"/>
<circle cx="354.50" cy="318.72" r="1.25" fill="#000"/>
<circle cx="361.30" cy="318.72" r="1.25" fill="#000"/>
<circle cx="357.90" cy="321.90" r="1.25" fill="#000"/>
<line x1="371.90" y1="298.97" x2="371.90" y2="319.99" stroke="#000" stroke-width="1.1"/>
<line x1="370.10" y1="298.97" x2="373.70" y2="298.97" stroke="#000" stroke-width="1.1"/>
<line x1="370.10" y1="319.99" x2="373.70" y2="319.99" stroke="#000" stroke-width="1.1"/>
<circle cx="371.90" cy="298.97" r="1.25" fill="#000"/>
<circle cx="368.40" cy="303.11" r="1.25" fill="#000"/>
<circle cx="375.40" cy="303.11" r="1.25" fill="#000"/>
<circle cx="375.40" cy="307.38" r="1.25" fill="#000"/>
<circle cx="368.40" cy="312.35" r="1.25" fill="#000"/>
<circle cx="375.40" cy="312.35" r="1.25" fill="#000"/>
<circle cx="371.90" cy="316.49" r="1.25" fill="#000"/>
<line x1="321.70" y1="258.80" x2="321.70" y2="327.60" stroke="#000" stroke-width="1.4"/>
<line x1="321.00" y1="327.00" x2="381.10" y2="327.00" stroke="#000" stroke-width="1.4"/>
<line x1="317.00" y1="327.00" x2="321.70" y2="327.00" stroke="#000" stroke-width="1.2"/>
<text transform="translate(311.80,330.50) scale(0.92,1)" font-size="9.9" text-anchor="end">0</text>
<line x1="317.00" y1="314.26" x2="321.70" y2="314.26" stroke="#000" stroke-width="1.2"/>
<text transform="translate(311.80,317.76) scale(0.92,1)" font-size="9.9" text-anchor="end">2</text>
<line x1="317.00" y1="301.52" x2="321.70" y2="301.52" stroke="#000" stroke-width="1.2"/>
<text transform="translate(311.80,305.02) scale(0.92,1)" font-size="9.9" text-anchor="end">4</text>
<line x1="317.00" y1="288.78" x2="321.70" y2="288.78" stroke="#000" stroke-width="1.2"/>
<text transform="translate(311.80,292.28) scale(0.92,1)" font-size="9.9" text-anchor="end">6</text>
<line x1="317.00" y1="276.04" x2="321.70" y2="276.04" stroke="#000" stroke-width="1.2"/>
<text transform="translate(311.80,279.54) scale(0.92,1)" font-size="9.9" text-anchor="end">8</text>
<line x1="317.00" y1="263.30" x2="321.70" y2="263.30" stroke="#000" stroke-width="1.2"/>
<text transform="translate(311.80,266.80) scale(0.92,1)" font-size="9.9" text-anchor="end">10</text>
<line x1="331.30" y1="327.00" x2="331.30" y2="331.90" stroke="#000" stroke-width="1.2"/>
<line x1="344.70" y1="327.00" x2="344.70" y2="331.90" stroke="#000" stroke-width="1.2"/>
<line x1="357.90" y1="327.00" x2="357.90" y2="331.90" stroke="#000" stroke-width="1.2"/>
<line x1="371.90" y1="327.00" x2="371.90" y2="331.90" stroke="#000" stroke-width="1.2"/>
<line x1="331.80" y1="271.50" x2="343.30" y2="271.50" stroke="#000" stroke-width="1.15"/>
<line x1="345.40" y1="271.50" x2="373.70" y2="271.50" stroke="#000" stroke-width="1.15"/>
<g stroke="#e2506f" stroke-width="0.8" stroke-linecap="round">
<line x1="335.10" y1="266.75" x2="335.10" y2="269.65"/>
<line x1="333.84" y1="267.47" x2="336.36" y2="268.93"/>
<line x1="333.84" y1="268.93" x2="336.36" y2="267.47"/>
</g>
<circle cx="335.10" cy="268.20" r="0.95" fill="#b0203f"/>
<g stroke="#e2506f" stroke-width="0.8" stroke-linecap="round">
<line x1="339.70" y1="266.75" x2="339.70" y2="269.65"/>
<line x1="338.44" y1="267.47" x2="340.96" y2="268.93"/>
<line x1="338.44" y1="268.93" x2="340.96" y2="267.47"/>
</g>
<circle cx="339.70" cy="268.20" r="0.95" fill="#b0203f"/>
<g stroke="#e2506f" stroke-width="0.8" stroke-linecap="round">
<line x1="357.20" y1="266.75" x2="357.20" y2="269.65"/>
<line x1="355.94" y1="267.47" x2="358.46" y2="268.93"/>
<line x1="355.94" y1="268.93" x2="358.46" y2="267.47"/>
</g>
<circle cx="357.20" cy="268.20" r="0.95" fill="#b0203f"/>
<g stroke="#e2506f" stroke-width="0.8" stroke-linecap="round">
<line x1="361.80" y1="266.75" x2="361.80" y2="269.65"/>
<line x1="360.54" y1="267.47" x2="363.06" y2="268.93"/>
<line x1="360.54" y1="268.93" x2="363.06" y2="267.47"/>
</g>
<circle cx="361.80" cy="268.20" r="0.95" fill="#b0203f"/>
<text x="277.90" y="292.40" font-size="12.5" text-anchor="middle" fill="#000" textLength="15.5" lengthAdjust="spacingAndGlyphs" transform="rotate(-90 277.90 292.40)">IL-2</text>
<text x="295.40" y="292.40" font-size="12.3" text-anchor="middle" fill="#000" textLength="67" lengthAdjust="spacingAndGlyphs" transform="rotate(-90 295.40 292.40)">production (%)</text>
<text x="335.10" y="342.60" font-size="10.5" text-anchor="end" fill="#000" textLength="65" lengthAdjust="spacingAndGlyphs" transform="rotate(-45 335.10 342.60)" style="stroke-width:0.1px">Isotype/B-BiTE</text>
<text x="348.50" y="342.60" font-size="10.5" text-anchor="end" fill="#000" textLength="94" lengthAdjust="spacingAndGlyphs" transform="rotate(-45 348.50 342.60)" style="stroke-width:0.1px">Daratumumab/B-BiTE</text>
<text x="361.70" y="342.60" font-size="10.5" text-anchor="end" fill="#000" textLength="30.5" lengthAdjust="spacingAndGlyphs" transform="rotate(-45 361.70 342.60)" style="stroke-width:0.1px">Isotype</text>
<text x="375.70" y="342.60" font-size="10.5" text-anchor="end" fill="#000" textLength="62" lengthAdjust="spacingAndGlyphs" transform="rotate(-45 375.70 342.60)" style="stroke-width:0.1px">Daratumumab</text>
<rect x="455.50" y="309.22" width="8.00" height="17.78" fill="#d6d6d6" stroke="#bcbcbc" stroke-width="0.6"/>
<rect x="468.90" y="300.33" width="8.00" height="26.67" fill="#2f4b86" stroke="#22386a" stroke-width="0.6"/>
<rect x="483.00" y="313.03" width="8.00" height="13.97" fill="#b3173d" stroke="#8e1030" stroke-width="0.6"/>
<rect x="496.70" y="307.10" width="8.00" height="19.90" fill="#7cba4c" stroke="#5e9a36" stroke-width="0.6"/>
<line x1="459.50" y1="298.22" x2="459.50" y2="320.23" stroke="#000" stroke-width="1.1"/>
<line x1="457.70" y1="298.22" x2="461.30" y2="298.22" stroke="#000" stroke-width="1.1"/>
<line x1="457.70" y1="320.23" x2="461.30" y2="320.23" stroke="#000" stroke-width="1.1"/>
<circle cx="459.50" cy="294.83" r="1.25" fill="#000"/>
<circle cx="456.30" cy="304.14" r="1.25" fill="#000"/>
<circle cx="462.70" cy="306.26" r="1.25" fill="#000"/>
<circle cx="459.50" cy="313.88" r="1.25" fill="#000"/>
<circle cx="459.50" cy="319.80" r="1.25" fill="#000"/>
<circle cx="459.50" cy="316.42" r="1.25" fill="#000"/>
<line x1="472.90" y1="286.79" x2="472.90" y2="313.88" stroke="#000" stroke-width="1.1"/>
<line x1="471.10" y1="286.79" x2="474.70" y2="286.79" stroke="#000" stroke-width="1.1"/>
<line x1="471.10" y1="313.88" x2="474.70" y2="313.88" stroke="#000" stroke-width="1.1"/>
<circle cx="472.90" cy="278.74" r="1.25" fill="#000"/>
<circle cx="472.90" cy="284.67" r="1.25" fill="#000"/>
<circle cx="469.70" cy="301.18" r="1.25" fill="#000"/>
<circle cx="476.10" cy="301.18" r="1.25" fill="#000"/>
<circle cx="472.90" cy="312.61" r="1.25" fill="#000"/>
<circle cx="472.90" cy="307.95" r="1.25" fill="#000"/>
<circle cx="472.90" cy="305.83" r="1.25" fill="#000"/>
<line x1="487.00" y1="302.87" x2="487.00" y2="323.19" stroke="#000" stroke-width="1.1"/>
<line x1="485.20" y1="302.87" x2="488.80" y2="302.87" stroke="#000" stroke-width="1.1"/>
<line x1="485.20" y1="323.19" x2="488.80" y2="323.19" stroke="#000" stroke-width="1.1"/>
<circle cx="484.00" cy="302.03" r="1.25" fill="#000"/>
<circle cx="490.30" cy="302.87" r="1.25" fill="#000"/>
<circle cx="483.50" cy="319.80" r="1.25" fill="#000"/>
<circle cx="490.50" cy="319.80" r="1.25" fill="#000"/>
<circle cx="487.00" cy="315.15" r="1.25" fill="#000"/>
<circle cx="487.00" cy="322.77" r="1.25" fill="#000"/>
<line x1="500.70" y1="294.19" x2="500.70" y2="320.02" stroke="#000" stroke-width="1.1"/>
<line x1="498.90" y1="294.19" x2="502.50" y2="294.19" stroke="#000" stroke-width="1.1"/>
<line x1="498.90" y1="320.02" x2="502.50" y2="320.02" stroke="#000" stroke-width="1.1"/>
<circle cx="500.70" cy="286.79" r="1.25" fill="#000"/>
<circle cx="497.50" cy="301.18" r="1.25" fill="#000"/>
<circle cx="503.90" cy="301.18" r="1.25" fill="#000"/>
<circle cx="497.50" cy="315.99" r="1.25" fill="#000"/>
<circle cx="503.90" cy="315.99" r="1.25" fill="#000"/>
<circle cx="500.70" cy="320.23" r="1.25" fill="#000"/>
<circle cx="500.70" cy="307.53" r="1.25" fill="#000"/>
<line x1="450.30" y1="258.80" x2="450.30" y2="327.60" stroke="#000" stroke-width="1.4"/>
<line x1="449.60" y1="327.00" x2="509.90" y2="327.00" stroke="#000" stroke-width="1.4"/>
<line x1="445.60" y1="327.00" x2="450.30" y2="327.00" stroke="#000" stroke-width="1.2"/>
<text transform="translate(440.40,330.50) scale(0.92,1)" font-size="9.9" text-anchor="end">0</text>
<line x1="445.60" y1="305.83" x2="450.30" y2="305.83" stroke="#000" stroke-width="1.2"/>
<text transform="translate(440.40,309.33) scale(0.92,1)" font-size="9.9" text-anchor="end">5</text>
<line x1="445.60" y1="284.67" x2="450.30" y2="284.67" stroke="#000" stroke-width="1.2"/>
<text transform="translate(440.40,288.17) scale(0.92,1)" font-size="9.9" text-anchor="end">10</text>
<line x1="445.60" y1="263.50" x2="450.30" y2="263.50" stroke="#000" stroke-width="1.2"/>
<text transform="translate(440.40,267.00) scale(0.92,1)" font-size="9.9" text-anchor="end">15</text>
<line x1="459.50" y1="327.00" x2="459.50" y2="331.90" stroke="#000" stroke-width="1.2"/>
<line x1="472.90" y1="327.00" x2="472.90" y2="331.90" stroke="#000" stroke-width="1.2"/>
<line x1="487.00" y1="327.00" x2="487.00" y2="331.90" stroke="#000" stroke-width="1.2"/>
<line x1="500.70" y1="327.00" x2="500.70" y2="331.90" stroke="#000" stroke-width="1.2"/>
<line x1="460.00" y1="271.50" x2="471.50" y2="271.50" stroke="#000" stroke-width="1.15"/>
<line x1="473.80" y1="271.50" x2="502.40" y2="271.50" stroke="#000" stroke-width="1.15"/>
<g stroke="#e2506f" stroke-width="0.8" stroke-linecap="round">
<line x1="466.20" y1="266.75" x2="466.20" y2="269.65"/>
<line x1="464.94" y1="267.47" x2="467.46" y2="268.93"/>
<line x1="464.94" y1="268.93" x2="467.46" y2="267.47"/>
</g>
<circle cx="466.20" cy="268.20" r="0.95" fill="#b0203f"/>
<g stroke="#e2506f" stroke-width="0.8" stroke-linecap="round">
<line x1="487.40" y1="266.75" x2="487.40" y2="269.65"/>
<line x1="486.14" y1="267.47" x2="488.66" y2="268.93"/>
<line x1="486.14" y1="268.93" x2="488.66" y2="267.47"/>
</g>
<circle cx="487.40" cy="268.20" r="0.95" fill="#b0203f"/>
<text x="406.50" y="295.60" font-size="12.5" text-anchor="middle" fill="#000" textLength="22.5" lengthAdjust="spacingAndGlyphs" transform="rotate(-90 406.50 295.60)">IFN-γ</text>
<text x="424.00" y="292.40" font-size="12.3" text-anchor="middle" fill="#000" textLength="67" lengthAdjust="spacingAndGlyphs" transform="rotate(-90 424.00 292.40)">production (%)</text>
<text x="463.30" y="342.60" font-size="10.5" text-anchor="end" fill="#000" textLength="65" lengthAdjust="spacingAndGlyphs" transform="rotate(-45 463.30 342.60)" style="stroke-width:0.1px">Isotype/B-BiTE</text>
<text x="476.70" y="342.60" font-size="10.5" text-anchor="end" fill="#000" textLength="94" lengthAdjust="spacingAndGlyphs" transform="rotate(-45 476.70 342.60)" style="stroke-width:0.1px">Daratumumab/B-BiTE</text>
<text x="490.80" y="342.60" font-size="10.5" text-anchor="end" fill="#000" textLength="30.5" lengthAdjust="spacingAndGlyphs" transform="rotate(-45 490.80 342.60)" style="stroke-width:0.1px">Isotype</text>
<text x="504.50" y="342.60" font-size="10.5" text-anchor="end" fill="#000" textLength="62" lengthAdjust="spacingAndGlyphs" transform="rotate(-45 504.50 342.60)" style="stroke-width:0.1px">Daratumumab</text>
<line x1="112.50" y1="57.90" x2="444.00" y2="57.90" stroke="#000" stroke-width="1.5"/>
<text x="221.90" y="50.00" font-size="14" text-anchor="start" fill="#000" textLength="113" lengthAdjust="spacingAndGlyphs" style="stroke-width:0.05px">CD8<tspan font-size="8.5" dy="-5.5">+</tspan><tspan dy="5.5"> T cells (n = 7)</tspan></text>
<line x1="56.00" y1="256.00" x2="381.60" y2="256.00" stroke="#000" stroke-width="1.5"/>
<text x="161.30" y="249.00" font-size="14" text-anchor="start" fill="#000" textLength="113.5" lengthAdjust="spacingAndGlyphs" style="stroke-width:0.05px">CD4<tspan font-size="8.5" dy="-5.5">+</tspan><tspan dy="5.5"> T cells (n = 7)</tspan></text>
<line x1="413.30" y1="256.00" x2="509.30" y2="256.00" stroke="#000" stroke-width="1.5"/>
<text x="417.20" y="248.60" font-size="14" text-anchor="start" fill="#000" textLength="88.5" lengthAdjust="spacingAndGlyphs" style="stroke-width:0.05px">NK cells (n = 7)</text>
<path d="M11.9,12.3 H20.2 V14.9 H14.5 V17.5 H19.8 V20.0 H14.5 V22.0 H20.6 V24.5 H11.9 Z" fill="#000"/>
</svg></body></html>
